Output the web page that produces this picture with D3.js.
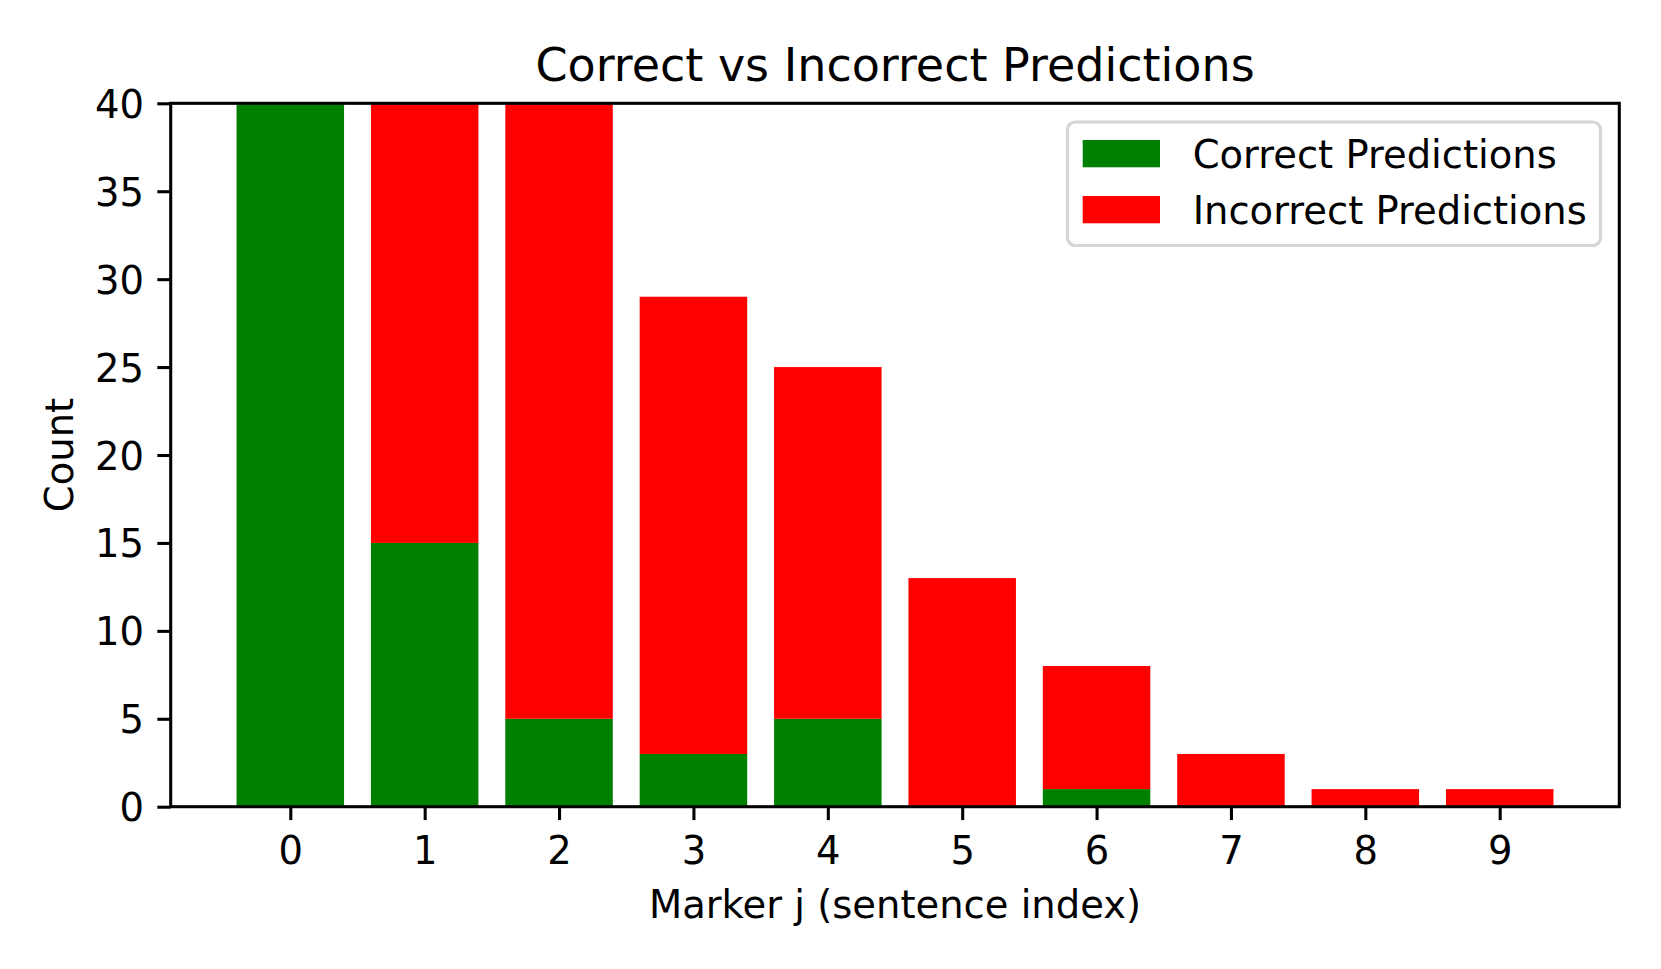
<!DOCTYPE html>
<html>
<head>
<meta charset="utf-8">
<script src="https://cdn.jsdelivr.net/npm/d3@7"></script>
<style>
  body { margin: 0; background: #fff; }
  svg { display: block; font-family: 'DejaVu Sans', sans-serif; }
</style>
</head>
<body>
<svg id="chart" width="1661" height="969"></svg>
<script>
// data (bars 0-2 run past the 40 limit, top part estimated)
const markers = [0, 1, 2, 3, 4, 5, 6, 7, 8, 9];
const correct = [52, 15, 5, 3, 5, 0, 1, 0, 0, 0];
const incorrect = [3, 31, 37, 26, 20, 13, 7, 3, 1, 1];
const yTicks = [0, 5, 10, 15, 20, 25, 30, 35, 40];
const seriesNames = ['Correct Predictions', 'Incorrect Predictions'];
const seriesColors = ['#008000', '#ff0000'];

const svg = d3.select('#chart');
const plotL = 170.7;
const plotR = 1619.3;
const plotT = 103.3;
const plotB = 806.7;
const lw = 3.07;
const tickLen = 13.4;
const fs = 38.5;
const font = "'DejaVu Sans', sans-serif";

const x = d3.scaleLinear().domain([-0.89, 9.89]).range([plotL, plotR]);
const y = d3.scaleLinear().domain([0, 40]).range([plotB, plotT]);
const barW = x(0.8) - x(0);

const table = markers.map((m, i) => ({ m, correct: correct[i], incorrect: incorrect[i] }));
const stacked = d3.stack().keys(['correct', 'incorrect'])(table);

svg.append('clipPath').attr('id', 'plotClip')
  .append('rect')
  .attr('x', plotL)
  .attr('y', plotT)
  .attr('width', plotR - plotL)
  .attr('height', plotB - plotT);

const bars = svg.append('g').attr('clip-path', 'url(#plotClip)');
bars.selectAll('g')
  .data(stacked)
  .enter()
  .append('g')
  .attr('fill', (d, i) => seriesColors[i])
  .selectAll('rect')
  .data(d => d)
  .enter()
  .append('rect')
  .attr('x', d => x(d.data.m) - barW / 2)
  .attr('width', barW)
  .attr('y', d => y(d[1]))
  .attr('height', d => y(d[0]) - y(d[1]));

// axes
const xAxis = d3.axisBottom(x).tickValues(markers).tickSize(tickLen).tickPadding(13.4)
  .tickFormat(d3.format('d'));
svg.append('g')
  .attr('transform', `translate(0,${plotB})`)
  .call(xAxis)
  .attr('font-family', font)
  .attr('font-size', fs)
  .call((g) => {
    g.select('.domain').remove();
    g.selectAll('line').attr('stroke', '#000').attr('stroke-width', lw);
    g.selectAll('text').attr('fill', '#000')
      .attr('y', 57.3).attr('dy', null);
  });

const yAxis = d3.axisLeft(y).tickValues(yTicks).tickSize(tickLen).tickPadding(13.4);
svg.append('g')
  .attr('transform', `translate(${plotL},0)`)
  .call(yAxis)
  .attr('font-family', font)
  .attr('font-size', fs)
  .call((g) => {
    g.select('.domain').remove();
    g.selectAll('line').attr('stroke', '#000').attr('stroke-width', lw);
    g.selectAll('text').attr('fill', '#000')
      .attr('x', -26.8).attr('dy', null).attr('y', 14);
  });

// frame
svg.append('rect')
  .attr('x', plotL)
  .attr('y', plotT)
  .attr('width', plotR - plotL)
  .attr('height', plotB - plotT)
  .attr('fill', 'none')
  .attr('stroke', '#000')
  .attr('stroke-width', lw)
  .attr('stroke-linejoin', 'miter');

// labels
svg.append('text')
  .attr('x', (plotL + plotR) / 2)
  .attr('y', 80.5)
  .attr('text-anchor', 'middle')
  .attr('font-size', 46)
  .text('Correct vs Incorrect Predictions');

svg.append('text')
  .attr('x', (plotL + plotR) / 2)
  .attr('y', 918)
  .attr('text-anchor', 'middle')
  .attr('font-size', fs)
  .text('Marker j (sentence index)');

svg.append('text')
  .attr('transform', `translate(72.5,${(plotT + plotB) / 2}) rotate(-90)`)
  .attr('text-anchor', 'middle')
  .attr('font-size', fs)
  .text('Count');

// legend
const legend = svg.append('g');
legend.append('rect')
  .attr('x', 1067.5)
  .attr('y', 122)
  .attr('width', 1600.5 - 1067.5)
  .attr('height', 245.5 - 122)
  .attr('rx', 7.7)
  .attr('fill', 'rgba(255,255,255,0.8)')
  .attr('stroke', '#d6d6d6')
  .attr('stroke-width', 3.2);

const rowY = [140, 196];
const items = legend.selectAll('g.item')
  .data(seriesNames)
  .enter()
  .append('g')
  .attr('class', 'item')
  .attr('transform', (d, i) => `translate(0,${rowY[i]})`);
items.append('rect')
  .attr('x', 1082.7)
  .attr('width', 77.3)
  .attr('height', 27.3)
  .attr('fill', (d, i) => seriesColors[i]);
items.append('text')
  .attr('x', 1192.7)
  .attr('y', 27.6)
  .attr('font-size', fs)
  .text(d => d);
</script>
</body>
</html>
